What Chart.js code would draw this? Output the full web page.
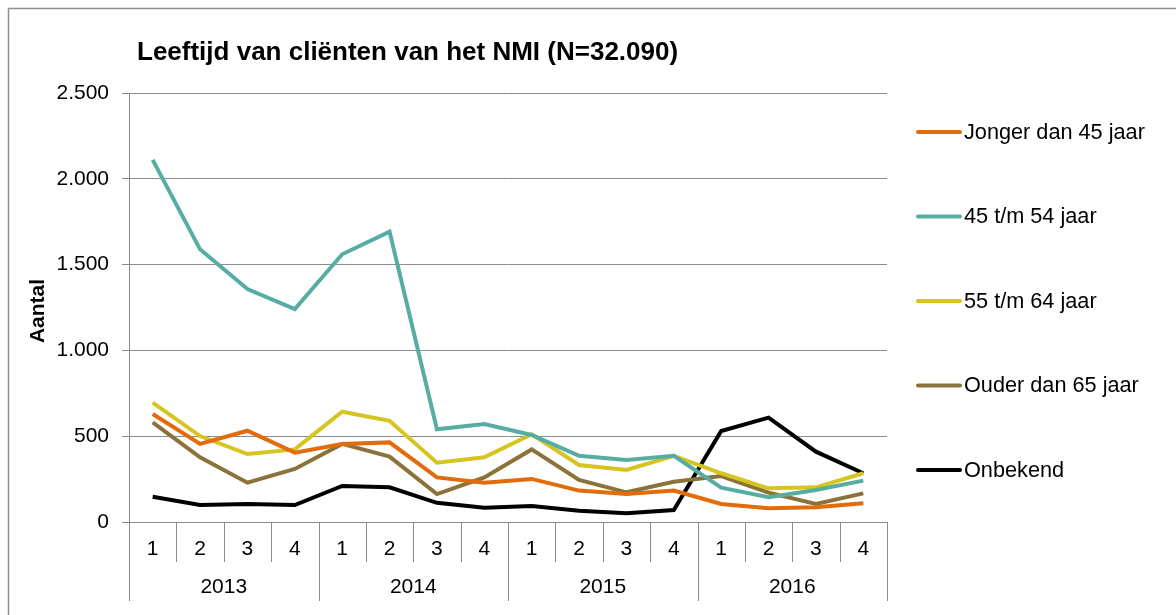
<!DOCTYPE html>
<html>
<head>
<meta charset="utf-8">
<script src="https://cdn.jsdelivr.net/npm/chart.js@4/dist/chart.umd.min.js"></script>
<style>
  html, body { margin: 0; padding: 0; background: #fff; }
  #wrap { width: 1176px; height: 615px; position: relative; }
</style>
</head>
<body>
<div id="wrap"><canvas id="chart" width="1176" height="615"></canvas></div>
<script>
const titleText = 'Leeftijd van cliënten van het NMI (N=32.090)';
const yTitle = 'Aantal';
const quarters = ['1', '2', '3', '4', '1', '2', '3', '4', '1', '2', '3', '4', '1', '2', '3', '4'];
const years = ['2013', '2014', '2015', '2016'];
const seriesNames = ['Jonger dan 45 jaar', '45 t/m 54 jaar', '55 t/m 64 jaar', 'Ouder dan 65 jaar', 'Onbekend'];
const seriesColors = ['#E36C0A', '#58ADA3', '#D6C421', '#8B7238', '#000000'];

const jonger45 = [629, 455, 532, 404, 455, 464, 260, 229, 251, 183, 163, 183, 105, 80, 86, 109];
const van45tot54 = [2110, 1589, 1358, 1241, 1560, 1692, 540, 571, 507, 386, 361, 386, 200, 144, 186, 241];
const van55tot64 = [695, 501, 396, 423, 643, 590, 346, 377, 511, 332, 303, 386, 284, 196, 202, 284];
const ouder65 = [581, 377, 229, 309, 455, 381, 163, 260, 423, 245, 173, 235, 268, 171, 105, 167];
const onbekend = [147, 99, 105, 99, 210, 202, 112, 83, 93, 66, 51, 70, 530, 608, 410, 284];

const seriesData = [jonger45, van45tot54, van55tot64, ouder65, onbekend];
const gridColor = '#8c8c8c';
const font = '"Liberation Sans", Arial, sans-serif';

const datasets = seriesNames.map(function (name, i) {
    return {
        label: name,
        data: seriesData[i],
        borderColor: seriesColors[i],
        backgroundColor: seriesColors[i],
        borderWidth: 4,
        pointRadius: 0,
        tension: 0,
        fill: false
    };
});

const extras = {
    id: 'extras',
    afterDraw: function (chart) {
        const ctx = chart.ctx;
        const area = chart.chartArea;
        const x = chart.scales.x;
        ctx.save();

        // outer frame
        ctx.strokeStyle = '#8f8f8f';
        ctx.lineWidth = 1.5;
        ctx.strokeRect(8.5, 8.5, 1180, 620);

        // title
        ctx.fillStyle = '#000';
        ctx.font = 'bold 26px ' + font;
        ctx.textAlign = 'left';
        ctx.textBaseline = 'middle';
        ctx.fillText(titleText, 137, 53);

        // y title
        ctx.save();
        ctx.translate(38, 311);
        ctx.rotate(-Math.PI / 2);
        ctx.font = 'bold 21px ' + font;
        ctx.textAlign = 'center';
        ctx.fillText(yTitle, 0, 0);
        ctx.restore();

        // category axis
        const step = (area.right - area.left) / quarters.length;
        ctx.strokeStyle = gridColor;
        ctx.lineWidth = 1;
        ctx.font = '21px ' + font;
        ctx.textAlign = 'center';
        for (let i = 0; i <= quarters.length; i++) {
            const px = Math.round(area.left + i * step) + 0.5;
            const bottom = (i % 4 === 0) ? 601 : 562;
            ctx.beginPath();
            ctx.moveTo(px, area.bottom);
            ctx.lineTo(px, bottom);
            ctx.stroke();
        }
        quarters.forEach(function (q, i) {
            ctx.fillText(q, x.getPixelForValue(i), 549);
        });
        years.forEach(function (y, i) {
            const c = (x.getPixelForValue(i * 4) + x.getPixelForValue(i * 4 + 3)) / 2;
            ctx.fillText(y, c, 587);
        });

        // legend
        ctx.textAlign = 'left';
        ctx.font = '21.7px ' + font;
        chart.data.datasets.forEach(function (ds, i) {
            const ly = 132 + i * 84.5;
            ctx.strokeStyle = ds.borderColor;
            ctx.lineWidth = 4;
            ctx.lineCap = 'round';
            ctx.beginPath();
            ctx.moveTo(918, ly);
            ctx.lineTo(960, ly);
            ctx.stroke();
            ctx.fillStyle = '#000';
            ctx.fillText(ds.label, 964, ly + 1);
        });
        ctx.restore();
    }
};

new Chart(document.getElementById('chart').getContext('2d'), {
    type: 'line',
    data: { labels: quarters, datasets: datasets },
    options: {
        responsive: false,
        animation: false,
        layout: { padding: { left: 0, top: 93, right: 289, bottom: 0 } },
        plugins: { legend: { display: false }, title: { display: false }, tooltip: { enabled: false } },
        scales: {
            x: {
                offset: true,
                ticks: { display: false },
                grid: { display: false },
                border: { display: true, color: gridColor, width: 1 },
                afterFit: function (s) { s.height = 93; }
            },
            y: {
                min: 0,
                max: 2500,
                ticks: {
                    stepSize: 500,
                    padding: 13,
                    color: '#000',
                    font: { family: font, size: 21 },
                    callback: function (v) { return v.toLocaleString('nl-NL'); }
                },
                grid: { color: gridColor, lineWidth: 1, tickLength: 7, drawTicks: true },
                border: { display: true, color: gridColor, width: 1 },
                afterFit: function (s) { s.width = 129; }
            }
        }
    },
    plugins: [extras]
});
</script>
</body>
</html>
